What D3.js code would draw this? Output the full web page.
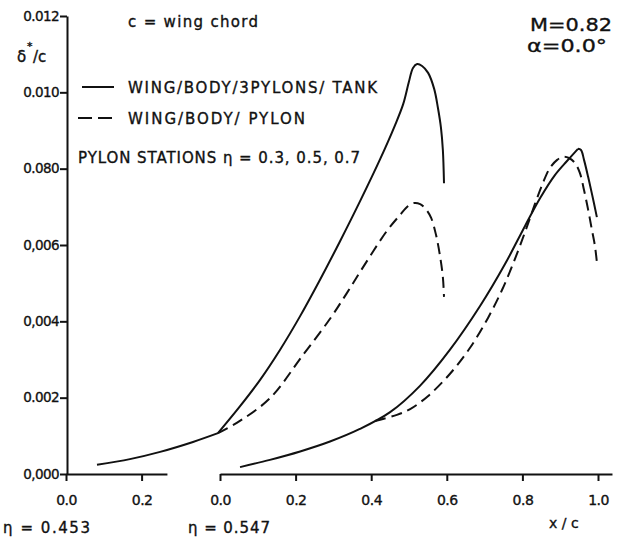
<!DOCTYPE html>
<html>
<head>
<meta charset="utf-8">
<script src="https://cdn.jsdelivr.net/npm/d3@7"></script>
<style>
  body { margin: 0; background: #fff; }
  text { font-family: "DejaVu Sans", sans-serif; fill: #111; stroke: #111; stroke-width: 0.35px; }
</style>
</head>
<body>
<script>
// axis ticks and labels
var yTicks = [0, 0.002, 0.004, 0.006, 0.008, 0.010, 0.012];
var yTickLabels = ["0,000", "0.002", "0,004", "0,006", "0.080", "0.010", "0.012"];
var xTicksLeft = [0, 0.2];
var xTicksRight = [0, 0.2, 0.4, 0.6, 0.8, 1.0];

// station eta = 0.453 (left origin)
var leftSolidX = [0.082, 0.169, 0.249, 0.336, 0.402, 0.460, 0.513, 0.566, 0.619, 0.672, 0.725, 0.778, 0.831, 0.870, 0.892, 0.907, 0.918, 0.929, 0.942, 0.958, 0.974, 0.984, 0.992, 0.997, 1.000];
var leftSolidY = [0.00024, 0.00039, 0.00058, 0.00084, 0.00107, 0.00177, 0.00246, 0.00325, 0.00413, 0.00509, 0.00610, 0.00715, 0.00825, 0.00913, 0.00969, 0.01027, 0.01064, 0.01074, 0.01069, 0.01051, 0.01009, 0.00959, 0.00907, 0.00849, 0.00762];
var leftDashX = [0.402, 0.460, 0.540, 0.627, 0.698, 0.743, 0.786, 0.849, 0.884, 0.905, 0.921, 0.937, 0.952, 0.966, 0.979, 0.989, 0.997, 1.000];
var leftDashY = [0.00107, 0.00139, 0.00199, 0.00312, 0.00406, 0.00474, 0.00542, 0.00637, 0.00679, 0.00702, 0.00710, 0.00707, 0.00694, 0.00671, 0.00626, 0.00574, 0.00516, 0.00464];

// station eta = 0.547 (right origin)
var rightSolidX = [0.053, 0.132, 0.212, 0.291, 0.370, 0.450, 0.529, 0.608, 0.688, 0.754, 0.807, 0.847, 0.886, 0.918, 0.947, 0.955, 0.963, 0.974, 0.984, 0.997];
var rightSolidY = [0.00018, 0.00037, 0.00059, 0.00085, 0.00118, 0.00162, 0.00231, 0.00325, 0.00440, 0.00550, 0.00650, 0.00723, 0.00783, 0.00820, 0.00852, 0.00849, 0.00823, 0.00778, 0.00734, 0.00673];
var rightDashX = [0.410, 0.468, 0.503, 0.550, 0.608, 0.661, 0.709, 0.746, 0.775, 0.807, 0.833, 0.854, 0.873, 0.892, 0.907, 0.923, 0.939, 0.952, 0.963, 0.974, 0.984, 0.992, 0.997];
var rightDashY = [0.00139, 0.00155, 0.00170, 0.00204, 0.00262, 0.00330, 0.00409, 0.00482, 0.00550, 0.00634, 0.00707, 0.00762, 0.00802, 0.00823, 0.00831, 0.00828, 0.00815, 0.00789, 0.00744, 0.00692, 0.00639, 0.00597, 0.00555];

var width = 627, height = 544;

var svg = d3.select("body").append("svg")
  .attr("width", width)
  .attr("height", height);

var y = d3.scaleLinear().domain([0, 0.012]).range([474, 16]);
var xLeft = d3.scaleLinear().domain([0, 1]).range([66, 444]);
var xRight = d3.scaleLinear().domain([0, 1]).range([220, 598]);

// y axis
var yAxis = svg.append("g")
  .attr("transform", "translate(67,0)")
  .call(d3.axisLeft(y).tickValues(yTicks)
    .tickFormat(function(d, i) { return yTickLabels[i]; })
    .tickSize(7).tickSizeOuter(0).tickPadding(1));
yAxis.selectAll("text").style("font-size", "13.5px").style("letter-spacing", "-0.6px");

// left x axis (short piece)
var xLeftAxisScale = xLeft.copy().domain([0, 0.267]).range([xLeft(0), xLeft(0.267)]);
var xAxisL = svg.append("g")
  .attr("transform", "translate(0," + y(0) + ")")
  .call(d3.axisBottom(xLeftAxisScale).tickValues(xTicksLeft)
    .tickFormat(d3.format(".1f")).tickSize(7).tickSizeOuter(0).tickPadding(14));

// right x axis
var xRightAxisScale = xRight.copy().domain([0, 1.037]).range([xRight(0), xRight(1.037)]);
var xAxisR = svg.append("g")
  .attr("transform", "translate(0," + y(0) + ")")
  .call(d3.axisBottom(xRightAxisScale).tickValues(xTicksRight)
    .tickFormat(d3.format(".1f")).tickSize(7).tickSizeOuter(0).tickPadding(14));

[yAxis, xAxisL, xAxisR].forEach(function(g) {
  g.select(".domain").attr("stroke", "#111").attr("stroke-width", 2);
  g.selectAll(".tick line").attr("stroke", "#111").attr("stroke-width", 2);
  g.selectAll("text").attr("fill", "#111");
});
xAxisL.selectAll("text").style("font-size", "14px").style("letter-spacing", "-0.5px");
xAxisR.selectAll("text").style("font-size", "14px").style("letter-spacing", "-0.5px");

// curves; a curve is split into pieces at its corner points
function drawCurve(xs, ys, xScale, dashed, corners) {
  var pts = xs.map(function(v, i) { return [v, ys[i]]; });
  var pieces = [], cur = [];
  pts.forEach(function(p) {
    cur.push(p);
    if (corners && corners.indexOf(p[0]) >= 0) { pieces.push(cur); cur = [p]; }
  });
  pieces.push(cur);
  var line = d3.line()
    .x(function(d) { return xScale(d[0]); })
    .y(function(d) { return y(d[1]); })
    .curve(d3.curveCatmullRom.alpha(0.5));
  svg.append("path")
    .attr("d", pieces.map(function(p) { return line(p); }).join(""))
    .attr("fill", "none")
    .attr("stroke", "#111")
    .attr("stroke-width", 2)
    .attr("stroke-linejoin", "round")
    .attr("stroke-dasharray", dashed ? "11,6" : null);
}
drawCurve(leftSolidX, leftSolidY, xLeft, false, [0.402]);
drawCurve(leftDashX, leftDashY, xLeft, true);
drawCurve(rightSolidX, rightSolidY, xRight, false, [0.947]);
drawCurve(rightDashX, rightDashY, xRight, true);

// y label  delta*/c
svg.append("text").attr("x", 17).attr("y", 62).style("font-size", "15px").text("δ");
svg.append("text").attr("x", 27).attr("y", 50).style("font-size", "11px").text("*");
svg.append("text").attr("x", 33).attr("y", 62).style("font-size", "15px").text("/c");

svg.append("text").attr("x", 128).attr("y", 27)
  .attr("textLength", 130).attr("lengthAdjust", "spacing")
  .style("font-size", "15px").text("c = wing chord");

svg.append("text").attr("x", 530).attr("y", 31)
  .attr("textLength", 82).attr("lengthAdjust", "spacingAndGlyphs")
  .style("font-size", "18px").text("M=0.82");
svg.append("text").attr("x", 527).attr("y", 52)
  .attr("textLength", 80).attr("lengthAdjust", "spacingAndGlyphs")
  .style("font-size", "18px").text("α=0.0°");

// legend
svg.append("line").attr("x1", 82).attr("x2", 114).attr("y1", 87).attr("y2", 87)
  .attr("stroke", "#111").attr("stroke-width", 2);
svg.append("text").attr("x", 128).attr("y", 93)
  .attr("textLength", 249).attr("lengthAdjust", "spacing")
  .style("font-size", "15px").text("WING/BODY/3PYLONS/ TANK");

svg.append("line").attr("x1", 78).attr("x2", 112).attr("y1", 118).attr("y2", 118)
  .attr("stroke", "#111").attr("stroke-width", 2).attr("stroke-dasharray", "14,6");
svg.append("text").attr("x", 128).attr("y", 124)
  .attr("textLength", 177).attr("lengthAdjust", "spacing")
  .style("font-size", "15px").text("WING/BODY/ PYLON");

svg.append("text").attr("x", 78).attr("y", 163)
  .attr("textLength", 282).attr("lengthAdjust", "spacing")
  .style("font-size", "15px").text("PYLON STATIONS  η = 0.3, 0.5, 0.7");

// station labels
svg.append("text").attr("x", 3).attr("y", 533)
  .attr("textLength", 87).attr("lengthAdjust", "spacing")
  .style("font-size", "15px").text("η = 0.453");
svg.append("text").attr("x", 188).attr("y", 533)
  .attr("textLength", 82).attr("lengthAdjust", "spacing")
  .style("font-size", "15px").text("η = 0.547");

svg.append("text").attr("x", 549).attr("y", 528)
  .style("font-size", "14px").text("x / c");
</script>
</body>
</html>
